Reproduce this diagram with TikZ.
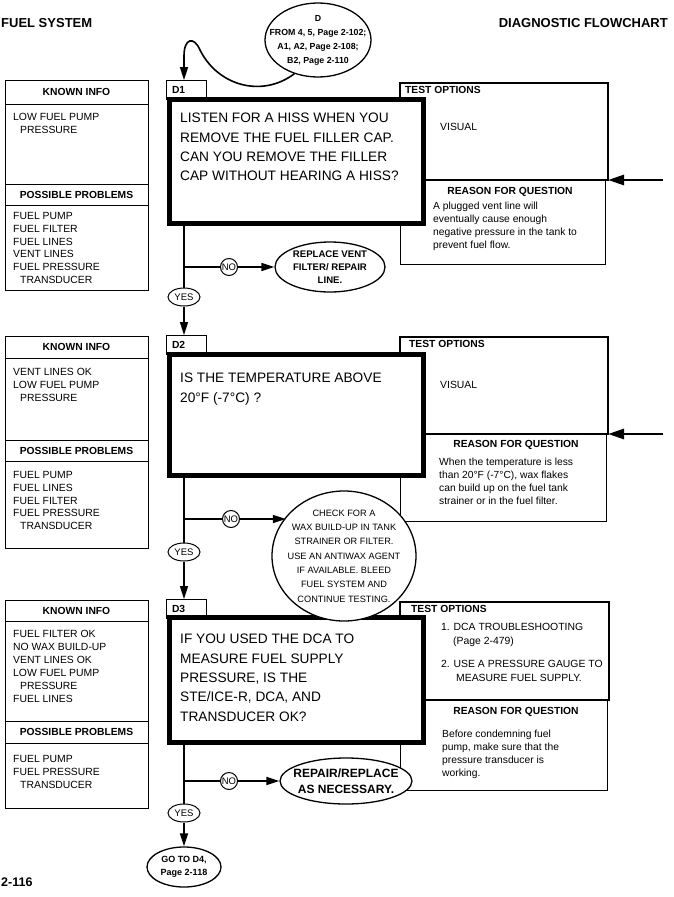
\documentclass[tikz,border=0pt]{standalone}
\usepackage{fontspec}
\setmainfont{Liberation Sans}
\usetikzlibrary{arrows.meta,shapes.geometric}

\begin{document}
\begin{tikzpicture}[x=1pt, y=-1pt, >={Triangle[length=13pt,width=8pt]},
    box/.style={draw, line width=1pt, outer sep=0pt, inner sep=0pt, anchor=north west},
    hdr/.style={box, minimum width=143pt, font=\bfseries\fontsize{10.3}{12}\selectfont},
    tab/.style={box, minimum width=40pt, minimum height=19pt, text width=28pt, inner xsep=6pt, align=left, font=\bfseries\fontsize{10.3}{12}\selectfont},
    qbox/.style={draw, line width=5pt, fill=white, outer sep=0pt, anchor=north west, minimum width=254pt},
    txt/.style={inner sep=0pt, anchor=north west, align=left, font=\fontsize{10.4}{12.7}\selectfont},
    qtxt/.style={txt, font=\fontsize{13.7}{19.4}\selectfont},
    boldtxt/.style={inner sep=0pt, font=\bfseries\fontsize{10.3}{12}\selectfont},
    bubble/.style={draw, ellipse, line width=1.3pt, fill=white},
    otxt/.style={inner sep=0pt, align=center, font=\bfseries\fontsize{10}{13}\selectfont},
    ansyes/.style={draw, ellipse, line width=1pt, fill=white, inner sep=0pt, minimum width=32pt, minimum height=18pt, font=\fontsize{9.5}{11}\selectfont},
    ansno/.style={draw, circle, line width=1pt, fill=white, inner sep=0pt, minimum size=17pt, font=\fontsize{9.5}{11}\selectfont},
    flow/.style={line width=1.6pt},
    feed/.style={line width=2.8pt, -{Triangle[length=16pt,width=10pt]}}]
    \useasboundingbox (0,0) rectangle (674,897);

    % 1. Page headings
    \node[anchor=west, inner sep=0pt, font=\bfseries\fontsize{13}{15}\selectfont] (sys) at (1,23) {FUEL SYSTEM};
    \node[anchor=east, inner sep=0pt, font=\bfseries\fontsize{13}{15}\selectfont] (chart) at (668,23) {DIAGNOSTIC FLOWCHART};
    \node[anchor=west, inner sep=0pt, font=\bfseries\fontsize{12.5}{15}\selectfont] (page) at (1,882) {2-116};

    % 2. Test options and reasons
    \node[box, line width=1.2pt, minimum width=208pt, minimum height=97pt] (t1) at (400,83) {};
    \node[box, minimum width=205pt, minimum height=84pt] (r1) at (400,180) {};
    \node[box, line width=1.2pt, minimum width=208pt, minimum height=97pt] (t2) at (400,337) {};
    \node[box, minimum width=206pt, minimum height=87pt] (r2) at (400,434) {};
    \node[box, line width=1.2pt, minimum width=209pt, minimum height=98pt] (t3) at (400,602) {};
    \node[box, minimum width=207pt, minimum height=90pt] (r3) at (400,700) {};

    \node[boldtxt, anchor=west] (t1h) at (405,90) {TEST OPTIONS};
    \node[txt, anchor=west] (t1v) at (440,127) {VISUAL};
    \node[boldtxt] (r1h) at (510,192) {REASON FOR QUESTION};
    \node[txt, font=\fontsize{10.3}{12.8}\selectfont] (r1t) at (433,202.3) {A plugged vent line will\\eventually cause enough\\negative pressure in the tank to\\prevent fuel flow.};

    \node[boldtxt, anchor=west] (t2h) at (409,344) {TEST OPTIONS};
    \node[txt, anchor=west] (t2v) at (440,385) {VISUAL};
    \node[boldtxt] (r2h) at (516,445) {REASON FOR QUESTION};
    \node[txt, font=\fontsize{10.3}{12.8}\selectfont] (r2t) at (439,458.3) {When the temperature is less\\than 20°F (-7°C), wax flakes\\can build up on the fuel tank\\strainer or in the fuel filter.};

    \node[boldtxt, anchor=west] (t3h) at (411,609) {TEST OPTIONS};
    \node[txt, font=\fontsize{10.4}{13.5}\selectfont] (t3t) at (441,623.3) {1. DCA TROUBLESHOOTING\\\hspace*{12pt}(Page 2-479)\\[10pt]2. USE A PRESSURE GAUGE TO\\\hspace*{15pt}MEASURE FUEL SUPPLY.};
    \node[boldtxt] (r3h) at (516,712) {REASON FOR QUESTION};
    \node[txt, font=\fontsize{10.3}{13}\selectfont] (r3t) at (442,730.3) {Before condemning fuel\\pump, make sure that the\\pressure transducer is\\working.};

    % 3. Known info / possible problems
    \node[hdr, minimum height=24pt] (k1h) at (5,80) {KNOWN INFO};
    \node[box, minimum width=143pt, minimum height=80pt] (k1) at (5,104) {};
    \node[hdr, minimum height=21pt] (p1h) at (5,184) {POSSIBLE PROBLEMS};
    \node[box, minimum width=143pt, minimum height=85pt] (p1) at (5,205) {};
    \node[txt] (k1t) at (13,113.3) {LOW FUEL PUMP\\\hspace*{7pt}PRESSURE};
    \node[txt] (p1t) at (13,212.3) {FUEL PUMP\\FUEL FILTER\\FUEL LINES\\VENT LINES\\FUEL PRESSURE\\\hspace*{7pt}TRANSDUCER};

    \node[hdr, minimum height=22pt] (k2h) at (5,336) {KNOWN INFO};
    \node[box, minimum width=143pt, minimum height=82pt] (k2) at (5,358) {};
    \node[hdr, minimum height=21pt] (p2h) at (5,440) {POSSIBLE PROBLEMS};
    \node[box, minimum width=143pt, minimum height=87pt] (p2) at (5,461) {};
    \node[txt] (k2t) at (13,368.3) {VENT LINES OK\\LOW FUEL PUMP\\\hspace*{7pt}PRESSURE};
    \node[txt] (p2t) at (13,471.3) {FUEL PUMP\\FUEL LINES\\FUEL FILTER\\FUEL PRESSURE\\\hspace*{7pt}TRANSDUCER};

    \node[hdr, minimum height=21pt] (k3h) at (5,600) {KNOWN INFO};
    \node[box, minimum width=143pt, minimum height=100pt] (k3) at (5,621) {};
    \node[hdr, minimum height=22pt] (p3h) at (5,721) {POSSIBLE PROBLEMS};
    \node[box, minimum width=143pt, minimum height=65pt] (p3) at (5,743) {};
    \node[txt, font=\fontsize{10.4}{13}\selectfont] (k3t) at (13,630.3) {FUEL FILTER OK\\NO WAX BUILD-UP\\VENT LINES OK\\LOW FUEL PUMP\\\hspace*{7pt}PRESSURE\\FUEL LINES};
    \node[txt, font=\fontsize{10.4}{13}\selectfont] (p3t) at (13,755.3) {FUEL PUMP\\FUEL PRESSURE\\\hspace*{7pt}TRANSDUCER};

    % 4. Question boxes
    \node[tab] (tab1) at (166,80) {D1};
    \node[qbox, minimum height=124pt] (d1) at (169.5,99.5) {};
    \node[qtxt] (q1) at (180,113) {LISTEN FOR A HISS WHEN YOU\\REMOVE THE FUEL FILLER CAP.\\CAN YOU REMOVE THE FILLER\\CAP WITHOUT HEARING A HISS?};

    \node[tab] (tab2) at (166,335) {D2};
    \node[qbox, minimum height=121pt] (d2) at (169.5,354.5) {};
    \node[qtxt] (q2) at (180,373) {IS THE TEMPERATURE ABOVE\\20°F (-7°C) ?};

    \node[tab] (tab3) at (166,599) {D3};
    \node[qbox, minimum height=125pt] (d3) at (169.5,617.5) {};
    \node[qtxt] (q3) at (180,634) {IF YOU USED THE DCA TO\\MEASURE FUEL SUPPLY\\PRESSURE, IS THE\\STE/ICE-R, DCA, AND\\TRANSDUCER OK?};

    % 5. Bubbles and answers
    \node[bubble, minimum width=106pt, minimum height=74pt] (from) at (318,40) {};
    \node[otxt, font=\bfseries\fontsize{8.8}{14}\selectfont] (fromt) at (from) {D\\FROM 4, 5, Page 2-102;\\A1, A2, Page 2-108;\\B2, Page 2-110};

    \node[ansyes] (yes1) at (184,297) {YES};
    \node[ansno] (no1) at (229,267) {NO};
    \node[bubble, minimum width=110pt, minimum height=50pt] (fix1) at (330,267) {};
    \node[otxt, font=\bfseries\fontsize{9.6}{12.8}\selectfont] (fix1t) at (fix1) {REPLACE VENT\\FILTER/ REPAIR\\LINE.};

    \node[ansyes] (yes2) at (184,552) {YES};
    \node[ansno] (no2) at (231,519) {NO};
    \node[bubble, minimum width=144pt, minimum height=130pt] (wax) at (344,556) {};
    \node[otxt, font=\fontsize{9.2}{14.3}\selectfont] (waxt) at (wax) {CHECK FOR A\\WAX BUILD-UP IN TANK\\STRAINER OR FILTER.\\USE AN ANTIWAX AGENT\\IF AVAILABLE. BLEED\\FUEL SYSTEM AND\\CONTINUE TESTING.};

    \node[ansyes] (yes3) at (184,813) {YES};
    \node[ansno] (no3) at (229,781) {NO};
    \node[bubble, minimum width=132pt, minimum height=46pt] (fix3) at (346,781) {};
    \node[otxt, font=\bfseries\fontsize{12}{16}\selectfont] (fix3t) at (fix3) {REPAIR/REPLACE\\AS NECESSARY.};
    \node[bubble, minimum width=74pt, minimum height=40pt] (next) at (184,867) {};
    \node[otxt, font=\bfseries\fontsize{9}{13}\selectfont] (nextt) at (next) {GO TO D4,\\Page 2-118};

    % 6. Flow lines
    \draw[flow, ->] (from.235) .. controls (262,98) and (218,86) .. (200,50)
        .. controls (194,36) and (184,38) .. (184,56) -- (tab1.north -| yes1);

    \draw[flow] (d1.south -| yes1) -- (yes1);
    \draw[flow] (no1 -| yes1) -- (no1);
    \draw[flow, ->] (no1) -- (fix1);
    \draw[flow, ->] (yes1) -- (tab2.north -| yes1);

    \draw[flow] (d2.south -| yes2) -- (yes2);
    \draw[flow] (no2 -| yes2) -- (no2);
    \draw[flow, ->] (no2) -- (no2 -| wax.146);
    \draw[flow, ->] (yes2) -- (tab3.north -| yes2);

    \draw[flow] (d3.south -| yes3) -- (yes3);
    \draw[flow] (no3 -| yes3) -- (no3);
    \draw[flow, ->] (no3) -- (fix3);
    \draw[flow, ->] (yes3) -- (next);

    % 7. Entry arrows on the right
    \coordinate (in1) at (663,180);
    \draw[feed] (in1) -- (t1.south east);
    \coordinate (in2) at (663,434);
    \draw[feed] (in2) -- (t2.south east);
\end{tikzpicture}
\end{document}
